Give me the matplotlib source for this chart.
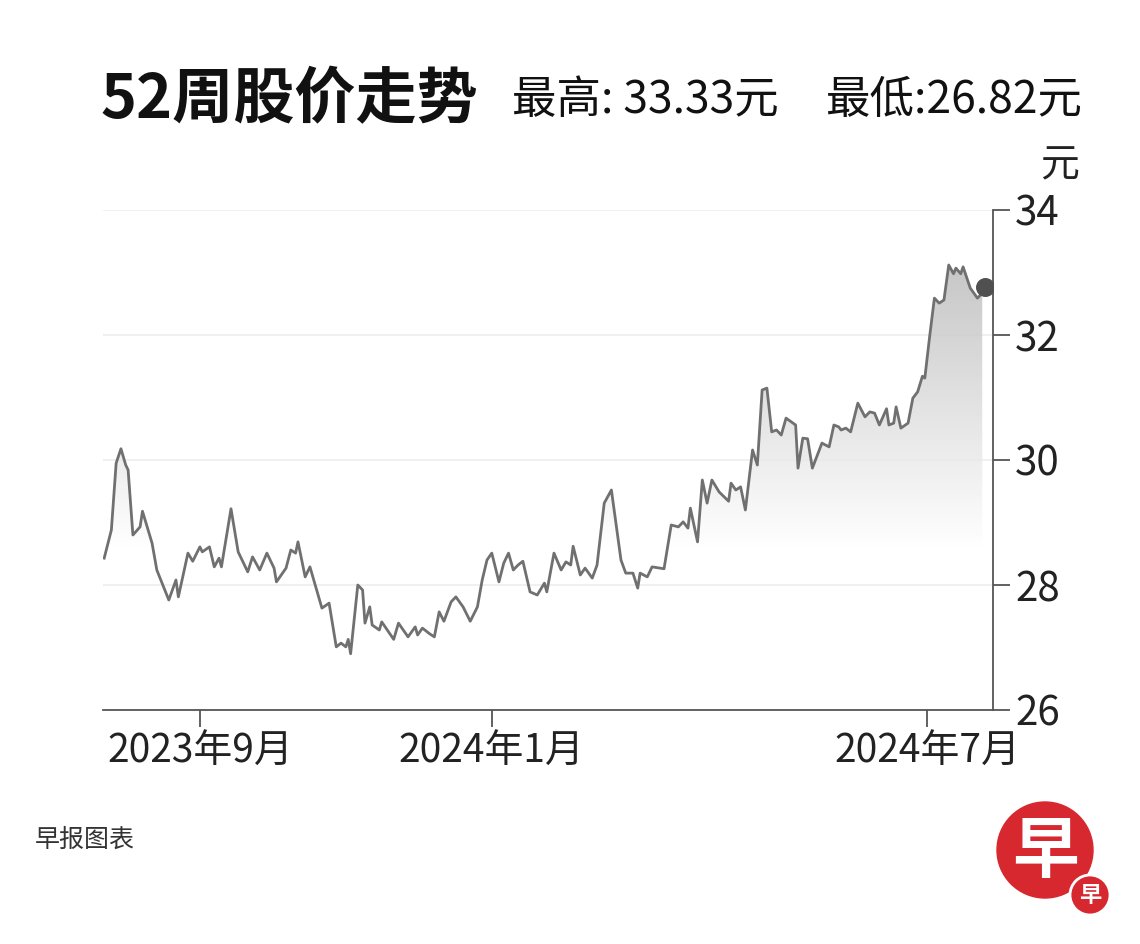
import matplotlib
matplotlib.use("Agg")
import matplotlib.pyplot as plt
import numpy as np
import pandas as pd
from matplotlib.patches import Polygon, Circle

plt.rcParams['font.family'] = ['Noto Sans CJK SC', 'DejaVu Sans']

# days from 2023-09-01 and closing prices
days = [-40,-37,-35,-33,-31,-30,-28,-25,-24,-20,-18,-13,-10,-9,-5,-3,0,1,4,6,8,9,13,16,20,22,25,28,31,32,36,38,40,41,44,46,51,54,57,59,61,62,63,66,68,69,71,72,75,76,81,83,87,90,91,93,96,98,100,102,105,107,110,113,116,118,120,122,125,127,129,131,133,135,138,141,144,145,148,151,153,155,156,159,161,164,166,169,172,176,178,181,183,184,187,189,194,197,200,202,204,205,208,210,212,214,217,221,222,224,226,228,231,233,235,237,239,241,243,245,249,250,252,254,256,260,263,265,267,268,270,272,275,278,280,282,284,287,288,290,291,293,296,298,300,302,303,305,307,309,311,313,315,316,318,319,322,325,327]
prices = [28.43,28.88,29.95,30.18,29.92,29.84,28.8,28.93,29.18,28.67,28.24,27.76,28.08,27.81,28.51,28.38,28.61,28.53,28.61,28.29,28.43,28.29,29.22,28.53,28.21,28.45,28.24,28.51,28.27,28.05,28.27,28.56,28.51,28.69,28.13,28.29,27.63,27.71,27.01,27.07,27.01,27.13,26.9,28.0,27.92,27.39,27.65,27.36,27.28,27.41,27.13,27.39,27.17,27.33,27.2,27.31,27.22,27.17,27.57,27.42,27.73,27.81,27.65,27.42,27.65,28.08,28.4,28.51,28.05,28.35,28.51,28.24,28.32,28.38,27.89,27.84,28.03,27.89,28.51,28.24,28.37,28.32,28.62,28.16,28.27,28.11,28.32,29.31,29.52,28.4,28.19,28.19,27.95,28.19,28.13,28.29,28.26,28.96,28.93,29.01,28.91,29.23,28.69,29.68,29.31,29.68,29.49,29.34,29.63,29.52,29.57,29.2,30.16,29.92,31.12,31.15,30.45,30.48,30.4,30.67,30.56,29.87,30.35,30.34,29.87,30.27,30.21,30.56,30.53,30.48,30.51,30.45,30.91,30.69,30.77,30.75,30.56,30.82,30.56,30.59,30.85,30.51,30.59,30.99,31.09,31.34,31.31,31.97,32.59,32.51,32.56,33.12,32.98,33.07,32.98,33.09,32.75,32.59,32.67]
last_price = 32.77
tick_dates = ["2023-09-01", "2024-01-01", "2024-07-01"]
tick_labels = ["2023年9月", "2024年1月", "2024年7月"]
yticks = [26, 28, 30, 32, 34]

base = pd.Timestamp("2023-09-01")
tick_pos = [(pd.Timestamp(d) - base).days for d in tick_dates]

fig = plt.figure(figsize=(11.4, 9.44), dpi=100)
W, H = 1140, 944
ax = fig.add_axes([103/W, 1-710/H, (993-103)/W, 500/H])
ax.set_xlim(-40.5, 331.5)
ax.set_ylim(26, 34)

x = np.array(days); y = np.array(prices)
grad = np.linspace(0, 1, 256).reshape(-1, 1)
img = ax.imshow(grad, extent=[x[0], x[-1], 28.6, 33.2], origin='lower',
                cmap=matplotlib.colors.LinearSegmentedColormap.from_list('g', [(1,1,1,1),(0.72,0.72,0.72,1)]),
                aspect='auto', zorder=1, alpha=0.8)
poly = Polygon(np.column_stack([np.r_[x, x[-1], x[0]], np.r_[y, 26, 26]]), closed=True,
               transform=ax.transData, facecolor='none', edgecolor='none')
ax.add_patch(poly)
img.set_clip_path(poly)

ax.plot(x, y, color='#707070', lw=2.0, zorder=3)
ax.scatter([x[-1]+1], [last_price], s=160, color='#505050', zorder=4)

for v in [28, 30, 32, 34]:
    ax.axhline(v, color='#eeeeee', lw=1.2, zorder=0)

for s in ['top', 'left']:
    ax.spines[s].set_visible(False)
for s in ['right', 'bottom']:
    ax.spines[s].set_color('#555555')
    ax.spines[s].set_linewidth(1.3)
ax.yaxis.tick_right()
ax.set_yticks(yticks)
ax.set_yticklabels([str(v) for v in yticks], fontsize=29, color='#222222')
ax.set_xticks(tick_pos)
ax.set_xticklabels(tick_labels, fontsize=28, color='#222222')
ax.tick_params(axis='both', length=12, width=1.3, color='#555555', pad=4)

fig.text(100/W, 1-100/H, "52周股价走势", fontsize=44, fontweight='bold', va='center', color='#111111')
fig.text(512/W, 1-100/H, "最高: 33.33元", fontsize=32, va='center', color='#111111')
fig.text(826/W, 1-100/H, "最低:26.82元", fontsize=32, va='center', color='#111111')
fig.text(1060/W, 1-165/H, "元", fontsize=28, va='center', ha='center', color='#222222')
fig.text(35/W, 1-840/H, "早报图表", fontsize=18, va='center', color='#333333')

# logo
lax = fig.add_axes([0, 0, 1, 1], zorder=5)
lax.set_xlim(0, W); lax.set_ylim(H, 0); lax.axis('off')
lax.add_patch(Circle((1045, 850), 48, color='#d7282f'))
lax.text(1045, 852, "早", fontsize=48, fontweight='bold', color='white', ha='center', va='center')
lax.add_patch(Circle((1090, 895), 20, color='#d7282f', ec='white', lw=2))
lax.text(1090, 896, "早", fontsize=16, fontweight='bold', color='white', ha='center', va='center')

fig.savefig("out.png", dpi=100)
